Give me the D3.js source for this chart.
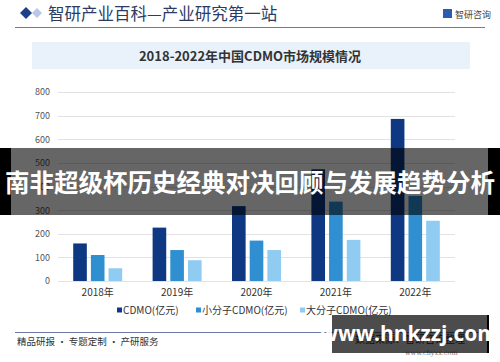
<!DOCTYPE html>
<html><head><meta charset="utf-8">
<script src="https://cdn.jsdelivr.net/npm/d3@7/dist/d3.min.js"></script>
<style>body{margin:0;background:#fff}svg{display:block}</style>
</head><body>
<script>
const years = ["2018年","2019年","2020年","2021年","2022年"];
const seriesNames = ["CDMO(亿元)","小分子CDMO(亿元)","大分子CDMO(亿元)"];
const cdmo = [159, 226, 317, 473, 686];
const smallMol = [110, 131, 171, 336, 360];
const largeMol = [54, 88, 131, 174, 255];
const yTicks = [0,100,200,300,400,500,600,700,800];
const colors = ["#0e3882","#2f8fd0","#90cbf2"];

const W=500,H=362;
const svg=d3.select("body").append("svg").attr("width",W).attr("height",H);
const font='"Noto Sans CJK SC","Noto Sans",sans-serif';

// header
svg.append("path").attr("d","M20,13 L26,7 L32,13 L26,19Z").attr("fill","#1d3f8a");
svg.append("path").attr("d","M32,13 L37,8 L42,13 L37,18Z").attr("fill","#b8c8e6");
svg.append("text").attr("x",48).attr("y",20).attr("font-family",font).attr("font-size",16.5).attr("fill","#2b3b63").text("智研产业百科—产业研究第一站");
svg.append("rect").attr("x",443).attr("y",9).attr("width",9).attr("height",9).attr("fill","#2a5db0");
svg.append("text").attr("x",455).attr("y",18).attr("font-family",font).attr("font-size",9).attr("fill","#444").text("智研咨询");
svg.append("line").attr("x1",15).attr("x2",485).attr("y1",27.5).attr("y2",27.5).attr("stroke","#6a7ca5").attr("stroke-width",1.2);

// title box
svg.append("rect").attr("x",32).attr("y",42).attr("width",438).attr("height",27).attr("fill","#e9f1fa");
svg.append("text").attr("x",250).attr("y",61).attr("text-anchor","middle").attr("font-family",font).attr("font-size",13).attr("font-weight","bold").attr("fill","#333").text("2018-2022年中国CDMO市场规模情况");

// chart
const y=d3.scaleLinear().domain([0,800]).range([281,92]);
const x=d3.scaleBand().domain(years).range([58,455]);
const xs=d3.scaleBand().domain(seriesNames).range([0,x.bandwidth()]).paddingInner(0.23).paddingOuter(0.86);

const g=svg.append("g");
g.selectAll("line.grid").data(yTicks).join("line").attr("x1",58).attr("x2",455)
 .attr("y1",d=>Math.round(y(d))+0.5).attr("y2",d=>Math.round(y(d))+0.5).attr("stroke","#e2e2e2");
const yAxis=d3.axisLeft(y).tickValues(yTicks).tickSize(0).tickPadding(8);
const ya=svg.append("g").attr("transform","translate(58,0)").call(yAxis);
ya.select(".domain").remove();
ya.selectAll("text").attr("font-family",font).attr("font-size",9).attr("fill","#555");

const data=[cdmo,smallMol,largeMol];
years.forEach((yr,i)=>{
  seriesNames.forEach((s,j)=>{
    g.append("rect").attr("x",x(yr)+xs(s)).attr("width",xs.bandwidth())
     .attr("y",y(data[j][i])).attr("height",y(0)-y(data[j][i])).attr("fill",colors[j]);
  });
});
const xAxis=d3.axisBottom(x).tickSize(0).tickPadding(8);
const xa=svg.append("g").attr("transform","translate(0,281)").call(xAxis);
xa.select(".domain").remove();
xa.selectAll("text").attr("font-family",font).attr("font-size",10).attr("fill","#333");

// legend
const legX=[117,196,300];
seriesNames.forEach((s,j)=>{
  svg.append("rect").attr("x",legX[j]).attr("y",307.5).attr("width",5).attr("height",5).attr("fill",colors[j]);
  svg.append("text").attr("x",legX[j]+6).attr("y",313.5).attr("font-family",font).attr("font-size",10).attr("fill","#333").text(s);
});

// footer
svg.append("line").attr("x1",15).attr("x2",480).attr("y1",332.5).attr("y2",332.5).attr("stroke","#6a7ca5").attr("stroke-width",1.2);
svg.append("text").attr("x",17).attr("y",345).attr("font-family",font).attr("font-size",9.5).attr("fill","#333").text("精品研报 · 专题定制 · 产研服务");
svg.append("text").attr("x",405).attr("y",355).attr("font-family",'"DejaVu Serif",serif').attr("font-size",6.5).attr("fill","#777").text("www.chyxx.com");
svg.append("text").attr("x",355).attr("y",343).attr("font-family",font).attr("font-size",10).attr("fill","#333").text("数据来源：智研咨询整理");

// overlay band
svg.append("rect").attr("x",0).attr("y",148).attr("width",500).attr("height",67).attr("fill","rgba(0,0,0,0.6)");
svg.append("rect").attr("x",0).attr("y",148).attr("width",11).attr("height",67).attr("fill","#000");
svg.append("rect").attr("x",488).attr("y",148).attr("width",12).attr("height",67).attr("fill","#000");
svg.append("text").attr("x",250).attr("y",192).attr("text-anchor","middle").attr("font-family",font).attr("font-size",24.5).attr("font-weight","bold").attr("fill","#fff").text("南非超级杯历史经典对决回顾与发展趋势分析");

// watermark box
svg.append("rect").attr("x",332).attr("y",315).attr("width",155).attr("height",38).attr("fill","rgba(0,0,0,0.7)");
svg.append("rect").attr("x",487).attr("y",315).attr("width",2).attr("height",38).attr("fill","#000");
svg.append("text").attr("x",409).attr("y",341).attr("text-anchor","middle").attr("font-family",'"Open Sans","DejaVu Sans",sans-serif').attr("font-size",21).attr("font-weight","bold").attr("fill","#fff").text("www.hnkzzj.com");
</script>
</body></html>
